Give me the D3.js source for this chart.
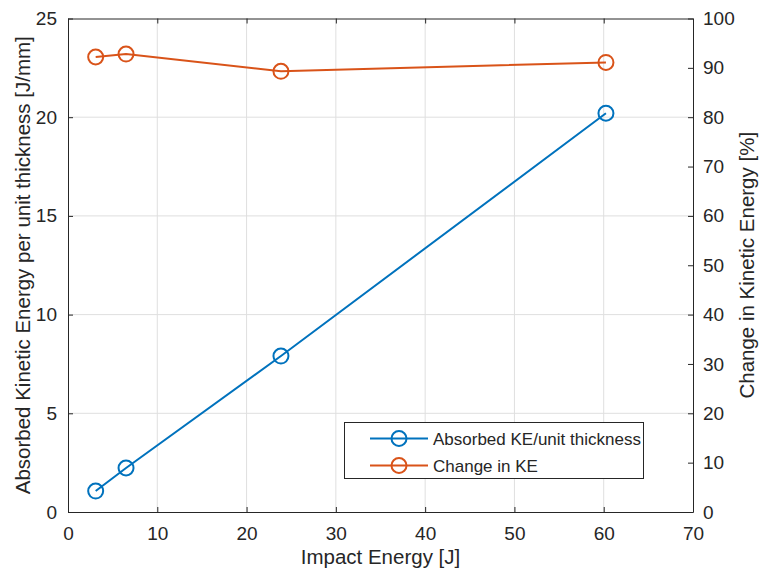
<!DOCTYPE html>
<html><head><meta charset="utf-8">
<script src="https://cdn.jsdelivr.net/npm/d3@7"></script>
<style>body{margin:0;background:#fff}svg{display:block}text{font-family:"Liberation Sans",Arial,sans-serif}</style>
</head><body><svg id="c" width="759" height="570"></svg>
<script>
const impactEnergy = [3.1, 6.5, 23.85, 60.25];
const absorbedKE = [1.06, 2.23, 7.9, 20.2];
const changeKE = [92.2, 92.8, 89.3, 91.1];
const xTicks = [0,10,20,30,40,50,60,70];
const yLeftTicks = [0,5,10,15,20,25];
const yRightTicks = [0,10,20,30,40,50,60,70,80,90,100];
const seriesNames = ["Absorbed KE/unit thickness", "Change in KE"];
const colors = ["#0072BD", "#D95319"];

const svg = d3.select("#c");
const L=68, R=693, T=18.5, B=512;
const x = d3.scaleLinear().domain([0,70]).range([L,R]);
const yL = d3.scaleLinear().domain([0,25]).range([B,T]);
const yR = d3.scaleLinear().domain([0,100]).range([B,T]);
const axisCol = "#262626";

// grid
const g = svg.append("g");
g.selectAll(".gx").data(xTicks.slice(1,-1)).enter().append("line")
 .attr("x1",d=>x(d)).attr("x2",d=>x(d)).attr("y1",T).attr("y2",B)
 .attr("stroke","#dfdfdf").attr("stroke-width",1);
g.selectAll(".gy").data(yLeftTicks.slice(1,-1)).enter().append("line")
 .attr("y1",d=>yL(d)).attr("y2",d=>yL(d)).attr("x1",L).attr("x2",R)
 .attr("stroke","#dfdfdf").attr("stroke-width",1);

// axes
const fs = "19px";
const ax = svg.append("g").attr("transform",`translate(0,${B})`)
 .call(d3.axisBottom(x).tickValues(xTicks).tickSizeInner(-5).tickSizeOuter(0).tickPadding(14.5));
const axT = svg.append("g").attr("transform",`translate(0,${T})`)
 .call(d3.axisTop(x).tickValues(xTicks).tickSizeInner(-5).tickSizeOuter(0).tickFormat(""));
const ayL = svg.append("g").attr("transform",`translate(${L},0)`)
 .call(d3.axisLeft(yL).tickValues(yLeftTicks).tickSizeInner(-5).tickSizeOuter(0).tickPadding(11));
const ayR = svg.append("g").attr("transform",`translate(${R},0)`)
 .call(d3.axisRight(yR).tickValues(yRightTicks).tickSizeInner(-5).tickSizeOuter(0).tickPadding(10));
[ax,axT,ayL,ayR].forEach(a=>{
  a.select(".domain").attr("stroke",axisCol).attr("stroke-width",1);
  a.selectAll(".tick line").attr("stroke",axisCol);
  a.selectAll("text").attr("fill",axisCol).style("font-size",fs).style("font-family","'Liberation Sans',Arial,sans-serif");
});

// labels
const lfs = "20.5px";
svg.append("text").attr("x",(L+R)/2).attr("y",564).attr("text-anchor","middle")
 .attr("fill",axisCol).style("font-size",lfs).text("Impact Energy [J]");
svg.append("text").attr("transform",`translate(30,${(T+B)/2}) rotate(-90)`).attr("text-anchor","middle")
 .attr("fill",axisCol).style("font-size",lfs).text("Absorbed Kinetic Energy per unit thickness [J/mm]");
svg.append("text").attr("transform",`translate(754,${(T+B)/2}) rotate(-90)`).attr("text-anchor","middle")
 .attr("fill",axisCol).style("font-size",lfs).text("Change in Kinetic Energy [%]");

// series
const d1 = impactEnergy.map((v,i)=>[x(v),yL(absorbedKE[i])]);
const d2 = impactEnergy.map((v,i)=>[x(v),yR(changeKE[i])]);
[d1,d2].forEach((d,k)=>{
  svg.append("path").attr("d",d3.line()(d)).attr("fill","none").attr("stroke",colors[k]).attr("stroke-width",2);
  svg.selectAll(null).data(d).enter().append("circle").attr("cx",p=>p[0]).attr("cy",p=>p[1]).attr("r",7.5)
   .attr("fill","none").attr("stroke",colors[k]).attr("stroke-width",2);
});

// legend
const lg = svg.append("g");
lg.append("rect").attr("x",344.5).attr("y",422.5).attr("width",299).attr("height",56)
 .attr("fill","#fff").attr("stroke",axisCol).attr("stroke-width",1);
seriesNames.forEach((n,i)=>{
  const yy = 438.5 + i*27;
  lg.append("line").attr("x1",370).attr("x2",428).attr("y1",yy).attr("y2",yy).attr("stroke",colors[i]).attr("stroke-width",2);
  lg.append("circle").attr("cx",399).attr("cy",yy).attr("r",7.5).attr("fill","none").attr("stroke",colors[i]).attr("stroke-width",2);
  lg.append("text").attr("x",433).attr("y",yy+6).attr("fill",axisCol).style("font-size","17px").text(n);
});
</script></body></html>
